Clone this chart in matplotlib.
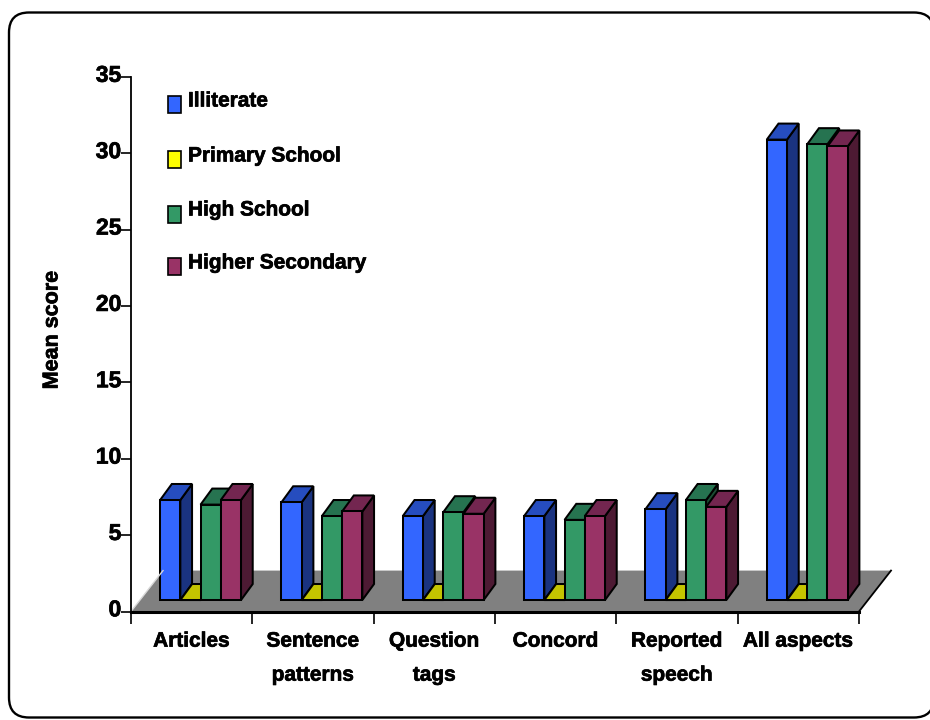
import matplotlib
matplotlib.use('Agg')
import matplotlib.pyplot as plt
import matplotlib.patheffects as pe
from matplotlib.patches import FancyBboxPatch, Polygon, Rectangle
from matplotlib.transforms import ScaledTranslation

plt.rcParams['font.family'] = ['Liberation Sans', 'DejaVu Sans']
plt.rcParams['font.weight'] = 'bold'

# Mean scores per aspect for each education group
categories = ['Articles', 'Sentence\npatterns', 'Question\ntags', 'Concord', 'Reported\nspeech', 'All aspects']
illiterate = [6.55, 6.4, 5.5, 5.5, 5.95, 30.15]
primary_school = [0, 0, 0, 0, 0, 0]
high_school = [6.25, 5.5, 5.75, 5.25, 6.55, 29.85]
higher_secondary = [6.55, 5.8, 5.65, 5.5, 6.1, 29.7]
y_ticks = [0, 5, 10, 15, 20, 25, 30, 35]

group_names = ['Illiterate', 'Primary School', 'High School', 'Higher Secondary']
group_values = [illiterate, primary_school, high_school, higher_secondary]

# front, top and side shades of each group
front_colors = ['#3366FF', '#FFFF00', '#339966', '#993366']
top_colors = ['#264DBF', '#C4C400', '#267350', '#732650']
side_colors = ['#1A3380', '#808000', '#1A4D33', '#4D1A33']

BAR_WIDTH = 1 / 6
BAR_START = 0.24
BASE_LIFT = 0.75    # bars stand this far above the front edge of the floor
DEPTH_X = 0.0965
DEPTH_Y = 1.05
FLOOR_X = 0.264
FLOOR_Y = 2.68
EDGE = 1.45

# thin outline to give the labels a heavier weight
heavy = [pe.withStroke(linewidth=0.5, foreground='black')]

fig = plt.figure(figsize=(9.3, 7.2), dpi=100)

# overlay in pixel units for the frame and the legend
back = fig.add_axes([0, 0, 1, 1])
back.set_xlim(0, 930)
back.set_ylim(720, 0)
back.axis('off')
back.add_patch(FancyBboxPatch((9, 12.5), 925, 705, boxstyle='round,pad=0,rounding_size=20',
                              facecolor='white', edgecolor='black', linewidth=1.7))

legend_tops = [96, 151, 206, 258]
legend_text_y = [101, 156, 210, 263]
for name, color, top, text_y in zip(group_names, front_colors, legend_tops, legend_text_y):
    back.add_patch(Rectangle((167.5, top), 13, 16.5, facecolor=color, edgecolor='black', linewidth=1.2))
    back.text(188, text_y, name, fontsize=15, va='center', ha='left', color='black', path_effects=heavy)
back.text(52, 330, 'Mean score', fontsize=15.5, rotation=90, va='center', ha='center', color='black',
          path_effects=heavy)

ax = fig.add_axes([131 / 930, 1 - 611.5 / 720, 728 / 930, 534.5 / 720])
ax.patch.set_alpha(0)
ax.set_xlim(0, 6)
ax.set_ylim(0, 35)

# floor of the 3D plot
ax.add_patch(Polygon([(0, 0), (6, 0), (6 + FLOOR_X, FLOOR_Y), (FLOOR_X, FLOOR_Y)],
                     facecolor='#808080', edgecolor='none', clip_on=False))
ax.plot([0, FLOOR_X], [0, FLOOR_Y], color='#D8D8D8', lw=1, clip_on=False)
ax.plot([6, 6 + FLOOR_X], [0, FLOOR_Y], color='black', lw=1.3, clip_on=False)

# left to right so each bar hides the side of the one before it
for c in range(len(categories)):
    for g, values in enumerate(group_values):
        left = c + BAR_START + g * BAR_WIDTH
        right = left + BAR_WIDTH
        bottom = BASE_LIFT
        top = BASE_LIFT + values[c]
        ax.add_patch(Polygon([(right, bottom), (right + DEPTH_X, bottom + DEPTH_Y),
                              (right + DEPTH_X, top + DEPTH_Y), (right, top)],
                             facecolor=side_colors[g], edgecolor='black', lw=EDGE, clip_on=False))
        ax.add_patch(Polygon([(left, top), (right, top), (right + DEPTH_X, top + DEPTH_Y),
                              (left + DEPTH_X, top + DEPTH_Y)],
                             facecolor=top_colors[g], edgecolor='black', lw=EDGE, clip_on=False))
        ax.bar(left, values[c], width=BAR_WIDTH, bottom=bottom, align='edge',
               color=front_colors[g], edgecolor='black', linewidth=EDGE, clip_on=False)

for side in ['top', 'right']:
    ax.spines[side].set_visible(False)
ax.spines['left'].set_linewidth(1.3)
ax.spines['bottom'].set_linewidth(2.2)

ax.set_yticks(y_ticks)
ax.set_yticklabels([str(t) for t in y_ticks], fontsize=16.5)
ax.tick_params(axis='y', length=7, width=1.2, pad=0)
for label in ax.get_yticklabels():
    label.set_transform(label.get_transform() + ScaledTranslation(0, 3 / 72, fig.dpi_scale_trans))
    label.set_path_effects(heavy)

ax.set_xticks(range(7))
ax.set_xticklabels([])
ax.tick_params(axis='x', which='major', length=8.5, width=1.2)
ax.set_xticks([i + 0.5 for i in range(6)], minor=True)
ax.set_xticklabels(categories, minor=True, fontsize=15, linespacing=2.0)
ax.tick_params(axis='x', which='minor', length=0, pad=14.5)
for label in ax.get_xticklabels(minor=True):
    label.set_path_effects(heavy)

plt.savefig('out.png', dpi=100)
